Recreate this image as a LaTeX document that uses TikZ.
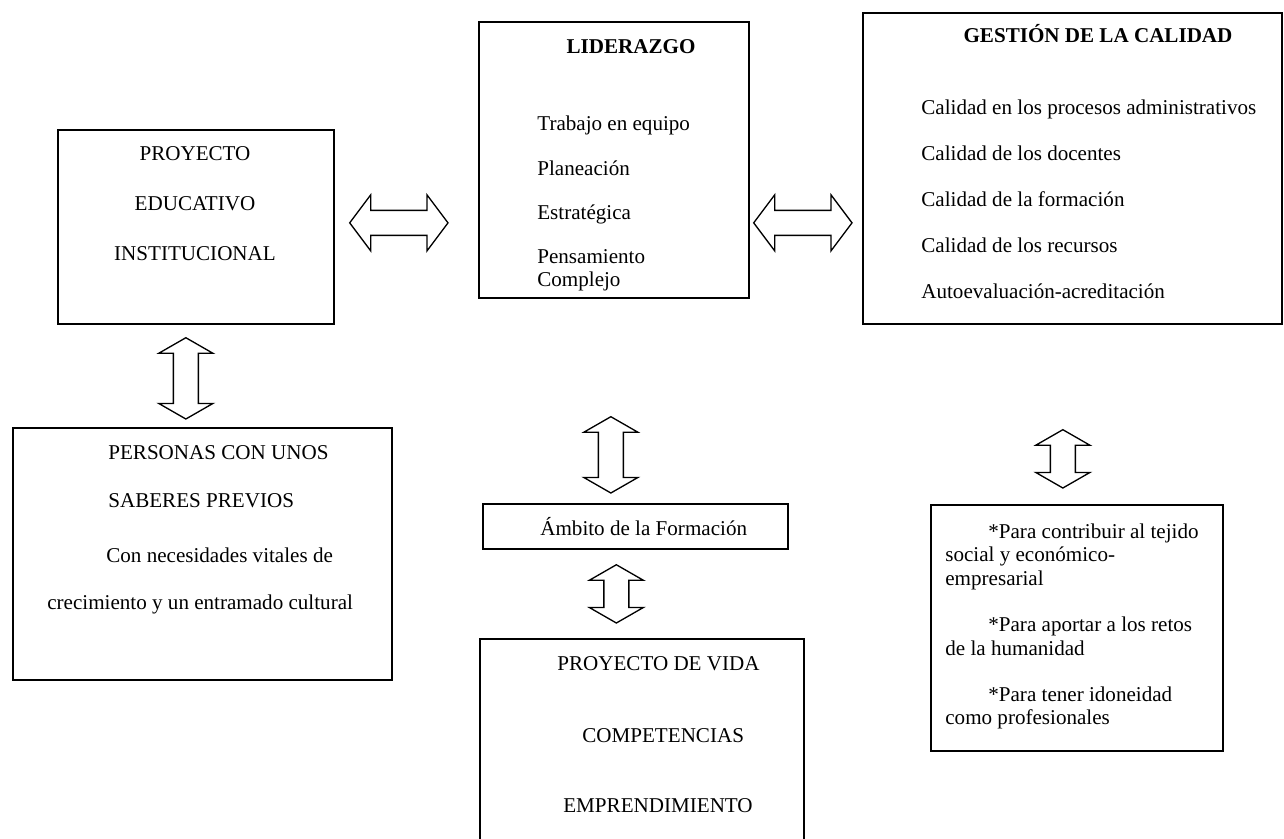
\documentclass[tikz,border=0pt]{standalone}
\usepackage{fontspec}
\setmainfont{Liberation Serif}
\usepackage{tikz}
\usetikzlibrary{calc}
\tikzstyle{box} = [rectangle, draw=black, line width=1pt, inner sep=0pt, anchor=north west]
\tikzstyle{txt} = [inner sep=0pt, font=\fontsize{12}{14}\selectfont]
\tikzstyle{head} = [txt, anchor=base, font=\fontsize{12}{14}\selectfont\bfseries]
\tikzstyle{blockarrow} = [draw=black, line width=0.75pt, fill=white, line join=miter]
% hollow double arrows between two coordinates
\newcommand{\hblock}[2]{%
  \draw[blockarrow] let \p1=(#1), \p2=(#2) in
    (\x1,\y1) -- (\x1+0.42cm,\y1+0.56cm) -- (\x1+0.42cm,\y1+0.25cm) -- (\x2-0.42cm,\y1+0.25cm)
    -- (\x2-0.42cm,\y1+0.56cm) -- (\x2,\y1) -- (\x2-0.42cm,\y1-0.56cm) -- (\x2-0.42cm,\y1-0.25cm)
    -- (\x1+0.42cm,\y1-0.25cm) -- (\x1+0.42cm,\y1-0.56cm) -- cycle;}
\newcommand{\vblock}[2]{%
  \draw[blockarrow] let \p1=(#1), \p2=(#2) in
    (\x1,\y1) -- (\x1+0.54cm,\y1-0.31cm) -- (\x1+0.25cm,\y1-0.31cm) -- (\x1+0.25cm,\y2+0.31cm)
    -- (\x1+0.54cm,\y2+0.31cm) -- (\x1,\y2) -- (\x1-0.54cm,\y2+0.31cm) -- (\x1-0.25cm,\y2+0.31cm)
    -- (\x1-0.25cm,\y1-0.31cm) -- (\x1-0.54cm,\y1-0.31cm) -- cycle;}

\begin{document}
\begin{tikzpicture}[x=0.02cm, y=-0.02cm]
\path[use as bounding box] (0,0) rectangle (1284,838);
\clip (0,0) rectangle (1284,838);

% Boxes
\node[box, minimum width=5.52cm, minimum height=3.88cm] (pei) at (57,129) {};
\node[box, minimum width=5.40cm, minimum height=5.52cm] (lid) at (478,21) {};
\node[box, minimum width=8.38cm, minimum height=6.22cm] (ges) at (862,12) {};
\node[box, minimum width=7.58cm, minimum height=5.04cm] (per) at (12,427) {};
\node[box, minimum width=6.10cm, minimum height=0.90cm] (amb) at (482,503) {};
\node[box, minimum width=6.48cm, minimum height=4.40cm] (pv) at (479,638) {};
\node[box, minimum width=5.84cm, minimum height=4.92cm] (obj) at (930,504) {};

% Proyecto educativo
\node[txt, anchor=base] (pei1) at (195,160) {PROYECTO};
\node[txt, anchor=base] (pei2) at (195,210) {EDUCATIVO};
\node[txt, anchor=base] (pei3) at (195,260) {INSTITUCIONAL};

% Liderazgo
\node[head] (lidh) at (631,54) {LIDERAZGO};
\foreach \t/\y [count=\i] in {Trabajo en equipo/131, Planeación/175, Estratégica/219, Pensamiento/263, Complejo/286}
  \node[txt, anchor=base west] (lid\i) at (537,\y) {\t};

% Gestion de la calidad
\node[head] (gesh) at (1098,43) {GESTIÓN DE LA CALIDAD};
\foreach \t/\y [count=\i] in {Calidad en los procesos administrativos/114, Calidad de los docentes/160,
    Calidad de la formación/206, Calidad de los recursos/252, Autoevaluación-acreditación/298}
  \node[txt, anchor=base west] (ges\i) at (921,\y) {\t};

% Personas
\node[txt, anchor=base west] (per1) at (108,459) {PERSONAS CON UNOS};
\node[txt, anchor=base west] (per2) at (108,507) {SABERES PREVIOS};
\node[txt, anchor=base west] (per3) at (106,562) {Con necesidades vitales de};
\node[txt, anchor=base west] (per4) at (47,609) {crecimiento y un entramado cultural};

% Formacion
\node[txt, anchor=base west] (amb1) at (540,535) {Ámbito de la Formación};
\node[txt, anchor=base west] (pv1) at (557,670) {PROYECTO DE VIDA};
\node[txt, anchor=base west] (pv2) at (582,742) {COMPETENCIAS};
\node[txt, anchor=base west] (pv3) at (563,812) {EMPRENDIMIENTO};

% Para que
\foreach \x/\y/\t [count=\i] in {988/538/*Para contribuir al tejido, 945/561/social y económico-,
    945/585/empresarial, 988/631/*Para aportar a los retos, 945/655/de la humanidad,
    988/701/*Para tener idoneidad, 945/724/como profesionales}
  \node[txt, anchor=base west] (obj\i) at (\x,\y) {\t};

% Arrows
\coordinate (h1a) at ($(pei.east)+(15,-4)$);
\coordinate (h1b) at ($(h1a -| lid.west)+(-30,0)$);
\coordinate (h2a) at ($(h1a -| lid.east)+(4,0)$);
\coordinate (h2b) at ($(h1a -| ges.west)+(-10,0)$);
\coordinate (v1a) at ($(pei.south)+(-10,13)$);
\coordinate (v1b) at ($(v1a |- per.north)+(0,-8)$);
\coordinate (v2a) at ($(lid.south)+(-3,118)$);
\coordinate (v2b) at ($(v2a |- amb.north)+(0,-10)$);
\coordinate (v3a) at ($(amb.south)+(-19,15)$);
\coordinate (v3b) at ($(v3a |- pv.north)+(0,-15)$);
\coordinate (v4a) at ($(ges.south)+(-9.5,105)$);
\coordinate (v4b) at ($(v4a |- obj.north)+(0,-16)$);
\hblock{h1a}{h1b}
\hblock{h2a}{h2b}
\vblock{v1a}{v1b}
\vblock{v2a}{v2b}
\vblock{v3a}{v3b}
\vblock{v4a}{v4b}
\end{tikzpicture}
\end{document}
